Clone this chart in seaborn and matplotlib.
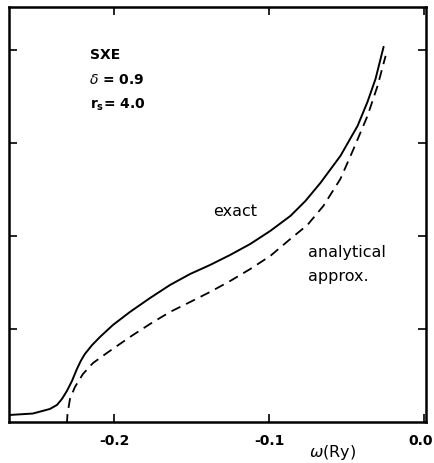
import numpy as np
import pandas as pd
import seaborn as sns
import matplotlib.pyplot as plt
from matplotlib.transforms import ScaledTranslation

# --- data (y in arbitrary units, tick spacing = 1) ---
omega_exact = [-0.2681, -0.2526, -0.2416, -0.2370, -0.2338, -0.2306, -0.2273, -0.2241,
               -0.2215, -0.2190, -0.2144, -0.2092, -0.2008, -0.1898, -0.1768, -0.1639,
               -0.1509, -0.1380, -0.1250, -0.1120, -0.0991, -0.0861, -0.0764, -0.0667,
               -0.0538, -0.0427, -0.0363, -0.0311, -0.0259]
val_exact = [0.075, 0.091, 0.140, 0.183, 0.247, 0.333, 0.441, 0.570,
             0.660, 0.730, 0.825, 0.914, 1.043, 1.183, 1.333, 1.473,
             1.591, 1.688, 1.796, 1.914, 2.054, 2.215, 2.376, 2.570,
             2.860, 3.183, 3.441, 3.688, 4.032]

omega_approx = [-0.2306, -0.2302, -0.2286, -0.2254, -0.2202, -0.2137, -0.2047, -0.1898,
                -0.1768, -0.1639, -0.1509, -0.1380, -0.1250, -0.1120, -0.0991, -0.0861,
                -0.0751, -0.0648, -0.0538, -0.0453, -0.0363, -0.0298, -0.0246]
val_approx = [-0.022, 0.086, 0.247, 0.376, 0.516, 0.634, 0.742, 0.914,
              1.054, 1.183, 1.290, 1.398, 1.516, 1.645, 1.785, 1.968,
              2.118, 2.323, 2.613, 2.935, 3.290, 3.613, 3.935]

x_ticks = [-0.2, -0.1, 0.0]
x_labels = ["-0.2", "-0.1", "0.0"]
y_ticks = [1, 2, 3, 4]

df_exact = pd.DataFrame({"omega": omega_exact, "val": val_exact})
df_approx = pd.DataFrame({"omega": omega_approx, "val": val_approx})

sns.set_theme(style="ticks")
plt.rcParams['font.family'] = ['DejaVu Sans']
plt.rcParams.update({"text.color": "black", "axes.edgecolor": "black",
                     "xtick.color": "black", "ytick.color": "black"})

W, H = 434, 464
fig = plt.figure(figsize=(W / 100, H / 100), dpi=100)
ax = fig.add_axes([9 / W, 1 - 423 / H, 417 / W, 415 / H])

sns.lineplot(data=df_exact, x="omega", y="val", sort=False, color="black", lw=1.4, ax=ax)
sns.lineplot(data=df_approx, x="omega", y="val", sort=False, color="black", lw=1.3,
             ax=ax, linestyle=(0, (5.5, 3.5)))

ax.set_xlim(-0.268, 0.0015)
ax.set_ylim(0, 4.46)
ax.set_xticks(x_ticks)
ax.set_xticklabels(x_labels, fontweight="bold", fontsize=10)
ax.set_yticks(y_ticks)
ax.set_yticklabels([])
ax.tick_params(direction="in", length=6, width=1.2, top=True, right=True, pad=8)
for s in ax.spines.values():
    s.set_linewidth(1.8)
ax.set_xlabel("")
ax.set_ylabel("")

# keep the "0.0" label inside the canvas
last = ax.get_xticklabels()[-1]
last.set_transform(last.get_transform() + ScaledTranslation(-3 / 100, 0, fig.dpi_scale_trans))


def put(px, py, s, **kw):
    fig.text(px / W, 1 - py / H, s, va="center", **kw)


put(90, 55, "SXE", fontsize=10, fontweight="bold")
put(89, 80, r"$\delta$ = 0.9", fontsize=10, fontweight="bold")
put(90, 105, r"r$_\mathbf{s}$= 4.0", fontsize=10, fontweight="bold")

put(213, 212, "exact", fontsize=11.5)
put(308, 252, "analytical", fontsize=11.5)
put(308, 277, "approx.", fontsize=11.5)
put(333, 453, r"$\omega$(Ry)", fontsize=11.5, ha="center")

fig.savefig("out.png", dpi=100)
